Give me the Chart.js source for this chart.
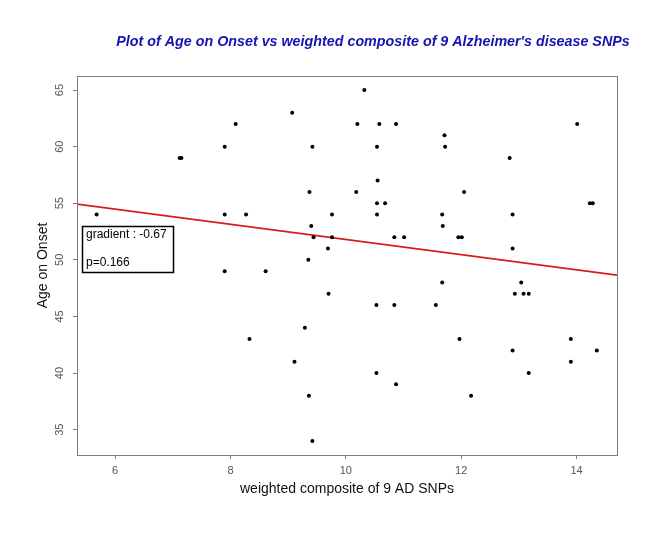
<!DOCTYPE html>
<html>
<head>
<meta charset="utf-8">
<script src="https://cdn.jsdelivr.net/npm/chart.js@4.4.0/dist/chart.umd.min.js"></script>
<style>
  body { margin: 0; background: #fff; }
  canvas { display: block; }
</style>
</head>
<body>
<canvas id="mycanvas" width="666" height="533"></canvas>
<script>
// weighted composite score (x) vs age on onset (y)
var snpScore = [5.68, 7.12, 7.15, 7.90, 8.09, 7.90, 8.27, 7.90, 8.33, 8.61,
  9.07, 9.11, 9.29, 9.35, 9.36, 9.37, 9.40, 9.42, 9.42, 9.44,
  9.69, 9.70, 9.76, 9.76, 10.18, 10.20, 10.32, 10.53, 10.53, 10.54,
  10.55, 10.54, 10.54, 10.58, 10.68, 10.84, 10.84, 10.87, 10.87, 11.01,
  11.56, 11.67, 11.67, 11.68, 11.71, 11.72, 11.95, 11.97, 12.01, 12.05,
  12.17, 12.84, 12.89, 12.89, 12.89, 12.93, 13.04, 13.08, 13.17, 13.17,
  13.90, 13.90, 14.01, 14.23, 14.28, 14.35];
var ageOnset = [54, 59, 59, 60, 62, 54, 54, 49, 43, 49,
  63, 41, 44, 50, 38, 56, 53, 60, 34, 52,
  51, 47, 54, 52, 56, 62, 65, 46, 40, 60,
  57, 55, 54, 62, 55, 52, 46, 62, 39, 52,
  46, 54, 48, 53, 61, 60, 52, 43, 52, 56,
  38, 59, 54, 51, 42, 47, 48, 47, 47, 40,
  43, 41, 62, 55, 55, 42];

var xTicks = [6, 8, 10, 12, 14];
var yTicks = [35, 40, 45, 50, 55, 60, 65];
var xRange = [5.34, 14.70];
var yRange = [32.76, 66.24];

// fitted line
var gradient = -0.67;
var intercept = 58.5;
var pValue = 0.166;

var chartTitle = "Plot of Age on Onset vs weighted composite of 9 Alzheimer's disease SNPs";
var xLabel = "weighted composite of 9 AD SNPs";
var yLabel = "Age on Onset";

var FONT = 'Arial, "Liberation Sans", sans-serif';
var AXIS_GREY = "#7c7c7c";

var points = [];
for (var i in snpScore) {
  points.push({x: snpScore[i], y: ageOnset[i]});
}
var fitLine = [
  {x: xRange[0], y: intercept + gradient * xRange[0]},
  {x: xRange[1], y: intercept + gradient * xRange[1]}
];

var extras = {
  id: "extras",
  beforeDraw: function (chart) {
    var ctx = chart.ctx;
    ctx.save();
    ctx.fillStyle = "#fff";
    ctx.fillRect(0, 0, chart.width, chart.height);
    ctx.restore();
  },
  afterDraw: function (chart) {
    var ctx = chart.ctx;
    var a = chart.chartArea;
    ctx.save();
    // box round the plot
    ctx.strokeStyle = AXIS_GREY;
    ctx.lineWidth = 1;
    ctx.strokeRect(a.left + 0.5, a.top + 0.5, a.right - a.left, a.bottom - a.top);

    // y tick labels, rotated like R does
    var ys = chart.scales.y;
    ctx.fillStyle = "#555";
    ctx.font = "11px " + FONT;
    ctx.textAlign = "center";
    ctx.textBaseline = "middle";
    yTicks.forEach(function (v) {
      var py = ys.getPixelForValue(v);
      ctx.save();
      ctx.translate(60, py);
      ctx.rotate(-Math.PI / 2);
      ctx.fillText(String(v), 0, 0);
      ctx.restore();
    });

    // title
    ctx.fillStyle = "#1414b0";
    ctx.font = "italic bold 14.3px " + FONT;
    ctx.textAlign = "center";
    ctx.fillText(chartTitle, 373, 42);

    // legend box
    ctx.strokeStyle = "#000";
    ctx.lineWidth = 1.5;
    ctx.strokeRect(82.5, 226.5, 91, 46);
    ctx.fillStyle = "#000";
    ctx.font = "12px " + FONT;
    ctx.textAlign = "left";
    ctx.fillText("gradient : " + gradient.toFixed(2), 86, 235);
    ctx.fillText("p=" + pValue, 86, 263);
    ctx.restore();
  }
};

var ctx = document.getElementById("mycanvas");
var plot = new Chart(ctx, {
  type: "scatter",
  data: {
    datasets: [
      {
        label: "patients",
        data: points,
        backgroundColor: "#000",
        borderColor: "#000",
        pointRadius: 2,
        pointBorderWidth: 0
      },
      {
        label: "fit",
        type: "line",
        data: fitLine,
        borderColor: "#d81c1c",
        borderWidth: 1.8,
        pointRadius: 0,
        fill: false
      }
    ]
  },
  options: {
    responsive: false,
    animation: false,
    layout: { padding: { left: 0, right: 49, top: 76, bottom: 0 } },
    plugins: {
      legend: { display: false },
      tooltip: { enabled: false }
    },
    scales: {
      x: {
        type: "linear",
        min: xRange[0],
        max: xRange[1],
        afterBuildTicks: function (s) { s.ticks = xTicks.map(function (v) { return {value: v}; }); },
        afterFit: function (s) { s.height = 78; },
        border: { display: false },
        grid: { drawOnChartArea: false, color: AXIS_GREY, tickLength: 4 },
        ticks: { color: "#555", font: { family: FONT, size: 11 }, padding: 5, maxRotation: 0 },
        title: {
          display: true, text: xLabel, color: "#111",
          font: { family: FONT, size: 14, lineHeight: 1.2 },
          padding: { top: 0, bottom: 35 }
        }
      },
      y: {
        type: "linear",
        min: yRange[0],
        max: yRange[1],
        afterBuildTicks: function (s) { s.ticks = yTicks.map(function (v) { return {value: v}; }); },
        afterFit: function (s) { s.width = 77; },
        border: { display: false },
        grid: { drawOnChartArea: false, color: AXIS_GREY, tickLength: 4 },
        ticks: { color: "rgba(0,0,0,0)", font: { family: FONT, size: 11 } },
        title: {
          display: true, text: yLabel, color: "#111",
          font: { family: FONT, size: 14, lineHeight: 1.2 },
          padding: { top: 34.5, bottom: 0 }
        }
      }
    }
  },
  plugins: [extras]
});
</script>
</body>
</html>
